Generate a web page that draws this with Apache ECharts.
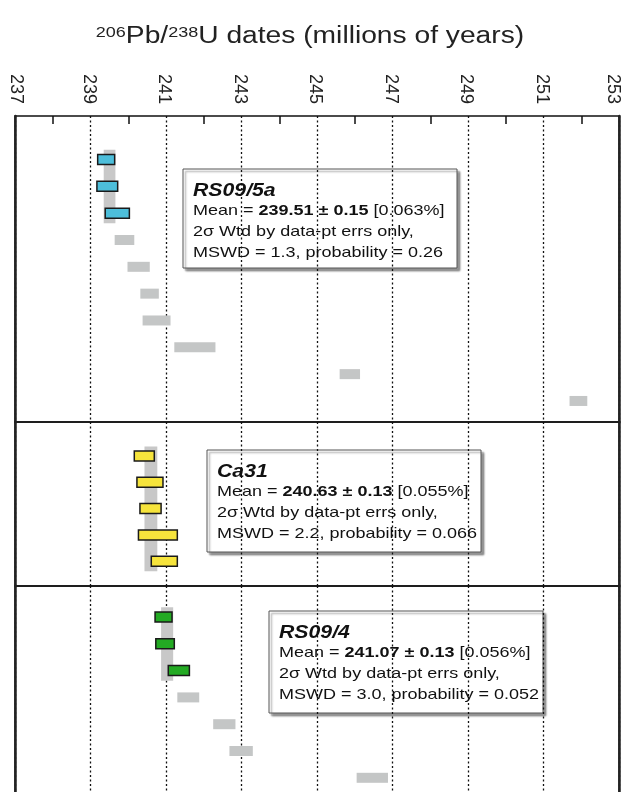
<!DOCTYPE html>
<html>
<head>
<meta charset="utf-8">
<script src="https://cdn.jsdelivr.net/npm/echarts@6/dist/echarts.min.js"></script>
<style>
  html, body { margin: 0; padding: 0; background: #fff; }
  #chart { width: 625px; height: 792px; }
</style>
</head>
<body>
<div id="chart"></div>
<script>
// x axis (dates in Ma)
var xMin = 237
var xMax = 253
var xStep = 2

// RS09/5a : [lo, hi] of each 2 sigma box, youngest first
var rs5aUsed = [[239.19, 239.64], [239.17, 239.72], [239.39, 240.03]]
var rs5aOut = [[239.64, 240.16], [239.98, 240.57], [240.32, 240.81], [240.38, 241.12], [241.22, 242.31], [245.60, 246.14], [251.69, 252.16]]
var rs5aBand = [239.35, 239.66]

// Ca31
var ca31Used = [[240.16, 240.69], [240.23, 240.92], [240.31, 240.87], [240.27, 241.30], [240.61, 241.30]]
var ca31Out = []
var ca31Band = [240.43, 240.77]

// RS09/4
var rs4Used = [[240.71, 241.16], [240.73, 241.22], [241.06, 241.62]]
var rs4Out = [[241.30, 241.88], [242.25, 242.84], [242.68, 243.30], [246.05, 246.88]]
var rs4Band = [240.87, 241.19]

// legend box texts
var sampleNames = ['RS09/5a', 'Ca31', 'RS09/4']
var sampleMeans = ['239.51 ± 0.15', '240.63 ± 0.13', '241.07 ± 0.13']
var samplePct = ['[0.063%]', '[0.055%]', '[0.056%]']
var sampleMswd = ['1.3', '2.2', '3.0']
var sampleProb = ['0.26', '0.066', '0.052']

var FONT = 'Liberation Sans, Arial, Helvetica, sans-serif'
var colors = ['#4dbeda', '#f6e43c', '#23aa23']
var grey = '#c4c6c6'

function toRows (list, start) {
  return list.map(function (d, i) { return [d[0], d[1], start + i] })
}

function boxRender (fill, stroke) {
  return function (params, api) {
    var a = api.coord([api.value(0), api.value(2)])
    var b = api.coord([api.value(1), api.value(2)])
    return {
      type: 'rect',
      shape: { x: a[0], y: a[1] - 5, width: b[0] - a[0], height: 10 },
      style: { fill: fill, stroke: stroke || null, lineWidth: stroke ? 1.5 : 0 }
    }
  }
}

function bandRender (params, api) {
  var a = api.coord([api.value(0), api.value(2)])
  var b = api.coord([api.value(1), api.value(3)])
  return {
    type: 'rect',
    shape: { x: a[0], y: a[1], width: b[0] - a[0], height: b[1] - a[1] },
    style: { fill: '#c8c8c8' }
  }
}

function panelSeries (idx, used, out, band) {
  var n = used.length
  return [
    {
      type: 'custom', xAxisIndex: idx, yAxisIndex: idx, z: 2,
      renderItem: bandRender,
      data: [[band[0], band[1], -0.36, n - 1 + 0.38]]
    },
    {
      type: 'custom', xAxisIndex: idx, yAxisIndex: idx, z: 3,
      renderItem: boxRender(grey, null),
      data: toRows(out, n)
    },
    {
      type: 'custom', xAxisIndex: idx, yAxisIndex: idx, z: 4,
      renderItem: boxRender(colors[idx], '#1a1a1a'),
      data: toRows(used, 0)
    }
  ]
}

function xAxisFor (idx) {
  var ax = {
    type: 'value', gridIndex: idx, min: xMin, max: xMax, interval: xStep,
    axisLine: { show: false, onZero: false },
    axisTick: { show: false, inside: true },
    axisLabel: { show: false },
    splitLine: { show: true, lineStyle: { color: '#111', width: 1.3, type: [2, 2.5] } }
  }
  if (idx === 0) {
    var lab = { fontSize: 18, fontFamily: FONT, color: '#222' }
    ax.position = 'top'
    ax.axisLabel = {
      show: true, rotate: 90,
      fontSize: 18, color: '#222', margin: 12, fontFamily: FONT,
      // padding shifts the rotated labels sideways; end labels sit inside the frame
      formatter: function (v) {
        if (v === xMin) return '{l|' + v + '}'
        if (v === xMax) return '{r|' + v + '}'
        return '{c|' + v + '}'
      },
      rich: {
        c: Object.assign({ padding: [4, 0, 0, 0] }, lab),
        l: Object.assign({ padding: [0, 0, 2, 0] }, lab),
        r: Object.assign({ padding: [12, 0, 0, 0] }, lab)
      }
    }
    // small ticks half way between the labelled dates
    ax.minorTick = { show: true, splitNumber: 2, length: 8, lineStyle: { color: '#111', width: 1.5 } }
  }
  return ax
}

function yAxisFor (idx, min, max, side) {
  return {
    type: 'value', gridIndex: idx, inverse: true, min: min, max: max, position: side,
    axisLine: { show: true, onZero: false, lineStyle: { color: '#222', width: 2.5 } },
    axisTick: { show: false },
    axisLabel: { show: false },
    splitLine: { show: false }
  }
}

// legend boxes
var boxPos = [[183, 169, 99], [207, 450, 102], [269, 611, 102]]

function textBox (i) {
  var x = boxPos[i][0]
  var y = boxPos[i][1]
  var tx = x + 10
  var body = { fontSize: 15, fontFamily: FONT, fill: '#111' }
  return {
    type: 'group',
    z: 100,
    children: [
      {
        type: 'rect',
        shape: { x: x, y: y, width: 274, height: boxPos[i][2] },
        style: { fill: '#fff', stroke: '#555', lineWidth: 1, shadowBlur: 2, shadowOffsetX: 2.5, shadowOffsetY: 2.5, shadowColor: 'rgba(0,0,0,0.4)' }
      },
      {
        type: 'text', x: tx, y: y + 22, scaleX: 1.18,
        style: { text: sampleNames[i], fontSize: 18, fontWeight: 'bold', fontStyle: 'italic', fontFamily: FONT, fill: '#111', verticalAlign: 'middle' }
      },
      {
        type: 'text', x: tx, y: y + 42, scaleX: 1.2,
        style: {
          text: '{n|Mean = }{b|' + sampleMeans[i] + '}{n| ' + samplePct[i] + '}',
          verticalAlign: 'middle', fontSize: 15, fontFamily: FONT, fill: '#111',
          rich: { n: body, b: { fontSize: 15, fontFamily: FONT, fontWeight: 'bold', fill: '#111' } }
        }
      },
      {
        type: 'text', x: tx, y: y + 63, scaleX: 1.2,
        style: { text: '2σ Wtd by data-pt errs only,', fontSize: 15, fontFamily: FONT, fill: '#111', verticalAlign: 'middle' }
      },
      {
        type: 'text', x: tx, y: y + 84, scaleX: 1.2,
        style: { text: 'MSWD = ' + sampleMswd[i] + ', probability = ' + sampleProb[i], fontSize: 15, fontFamily: FONT, fill: '#111', verticalAlign: 'middle' }
      }
    ]
  }
}

var chart = echarts.init(document.getElementById('chart'))
var gridStyle = { show: true, borderColor: '#111', borderWidth: 1.5, backgroundColor: 'transparent', containLabel: false, outerBoundsMode: 'none' }

var yRanges = [[-1.621, 9.784], [-1.293, 4.943], [-1.157, 8.545]]

var option = {
  animation: false,
  grid: [
    Object.assign({ left: 15, width: 604, top: 116, height: 306 }, gridStyle),
    Object.assign({ left: 15, width: 604, top: 422, height: 164 }, gridStyle),
    Object.assign({ left: 15, width: 604, top: 586, height: 260 }, gridStyle)
  ],
  xAxis: [xAxisFor(0), xAxisFor(1), xAxisFor(2)],
  yAxis: [
    yAxisFor(0, yRanges[0][0], yRanges[0][1], 'left'),
    yAxisFor(1, yRanges[1][0], yRanges[1][1], 'left'),
    yAxisFor(2, yRanges[2][0], yRanges[2][1], 'left'),
    yAxisFor(0, yRanges[0][0], yRanges[0][1], 'right'),
    yAxisFor(1, yRanges[1][0], yRanges[1][1], 'right'),
    yAxisFor(2, yRanges[2][0], yRanges[2][1], 'right')
  ],
  series: [].concat(
    panelSeries(0, rs5aUsed, rs5aOut, rs5aBand),
    panelSeries(1, ca31Used, ca31Out, ca31Band),
    panelSeries(2, rs4Used, rs4Out, rs4Band)
  ),
  graphic: [
    {
      type: 'text', x: 310, y: 37, scaleX: 1.2,
      style: {
        text: '{s|206}{m|Pb/}{s|238}{m|U dates (millions of years)}',
        align: 'center', verticalAlign: 'middle', fill: '#222',
        rich: {
          m: { fontSize: 23.5, fontFamily: FONT, fill: '#222' },
          s: { fontSize: 15, fontFamily: FONT, fill: '#222', verticalAlign: 'top' }
        }
      }
    },
    textBox(0),
    textBox(1),
    textBox(2)
  ]
}

chart.setOption(option)
</script>
</body>
</html>
